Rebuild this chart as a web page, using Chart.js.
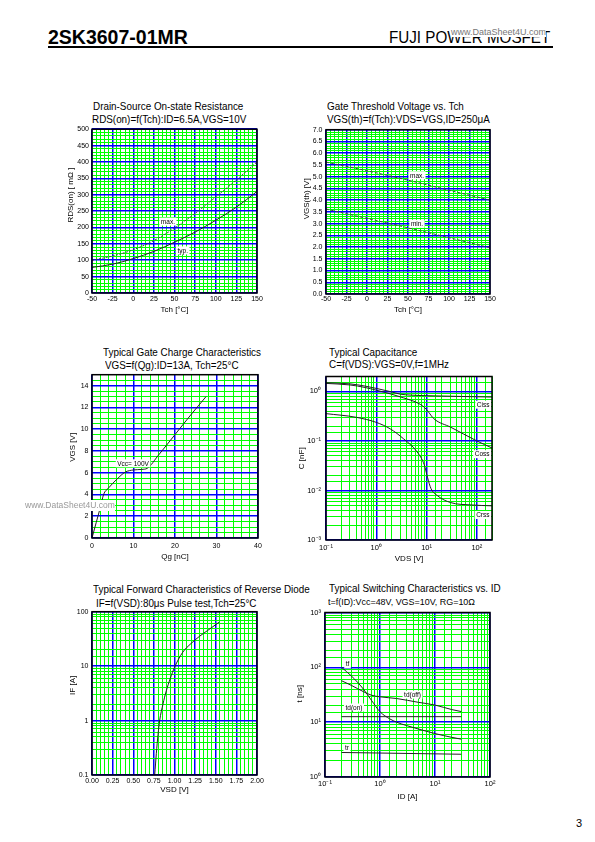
<!DOCTYPE html>
<html><head><meta charset="utf-8">
<script src="https://cdn.jsdelivr.net/npm/chart.js@4.4.1/dist/chart.umd.min.js"></script>
<style>
html,body{margin:0;padding:0;background:#fff;}
body{width:595px;height:842px;position:relative;overflow:hidden;font-family:"Liberation Sans",Arial,Helvetica,sans-serif;color:#000;}
.t{position:absolute;white-space:nowrap;transform-origin:0 50%;transform:scaleX(0.94);font-size:10.5px;line-height:12px;}
canvas{position:absolute;}
</style></head><body>
<div class="t" style="left:48px;top:26px;font-size:19.5px;line-height:22px;font-weight:bold;transform:none;">2SK3607-01MR</div>
<div class="t" style="left:389px;top:29px;font-size:16px;line-height:18px;transform:scaleX(0.95);">FUJI POWER MOSFET</div>
<div class="t" style="left:451px;top:27px;font-size:9px;line-height:10px;color:#777;background:#fff;transform:none;">www.DataSheet4U.com</div>
<div style="position:absolute;left:48px;top:46px;width:505px;height:2px;background:#000;"></div>

<div class="t" style="left:93px;top:100px;">Drain-Source On-state Resistance</div>
<div class="t" style="left:92px;top:113px;">RDS(on)=f(Tch):ID=6.5A,VGS=10V</div>
<div class="t" style="left:327px;top:100px;">Gate Threshold Voltage vs. Tch</div>
<div class="t" style="left:327px;top:113px;">VGS(th)=f(Tch):VDS=VGS,ID=250μA</div>
<div class="t" style="left:103px;top:346px;">Typical Gate Charge Characteristics</div>
<div class="t" style="left:105px;top:359px;">VGS=f(Qg):ID=13A, Tch=25°C</div>
<div class="t" style="left:329px;top:346px;">Typical Capacitance</div>
<div class="t" style="left:329px;top:358px;">C=f(VDS):VGS=0V,f=1MHz</div>
<div class="t" style="left:93px;top:583px;">Typical Forward Characteristics of Reverse Diode</div>
<div class="t" style="left:96px;top:597px;">IF=f(VSD):80μs Pulse test,Tch=25°C</div>
<div class="t" style="left:329px;top:582px;">Typical Switching Characteristics vs. ID</div>
<div class="t" style="left:328px;top:596px;font-size:9.5px;">t=f(ID):Vcc=48V, VGS=10V, RG=10Ω</div>
<div class="t" style="left:576px;top:817px;font-size:11px;transform:none;">3</div>

<canvas id="c1"></canvas><canvas id="c2"></canvas><canvas id="c3"></canvas>
<canvas id="c4"></canvas><canvas id="c5"></canvas><canvas id="c6"></canvas>
<div class="t" style="left:25px;top:500px;font-size:8.5px;line-height:11px;color:#999;background:#fff;transform:none;z-index:5;">www.DataSheet4U.com</div>

<script>
// ---------- DATA ----------
// 1. RDS(on) vs Tch
const rdsTch = [-50, -25, 0, 25, 50, 75, 100, 125, 150];
const rdsMax = [100, 113, 132, 160, 198, 243, 293, 345, 400];
const rdsTyp = [78, 88, 105, 127, 155, 186, 222, 262, 310];
const tchTickLabels = [-50, -25, 0, 25, 50, 75, 100, 125, 150];
const rdsTickLabels = [0, 50, 100, 150, 200, 250, 300, 350, 400, 450, 500];

// 2. VGS(th) vs Tch
const vthTch = [-50, 0, 50, 100, 150];
const vthMax = [5.62, 5.25, 4.85, 4.42, 4.0];
const vthMin = [3.62, 3.22, 2.82, 2.40, 1.97];
const vthTickLabels = [0, 0.5, 1, 1.5, 2, 2.5, 3, 3.5, 4, 4.5, 5, 5.5, 6, 6.5, 7];

// 3. Gate charge
const qgValues = [0, 1, 2, 2.8, 4, 6, 8, 10, 12, 13.3, 16, 20, 24, 27.5];
const vgsValues = [0, 1.4, 2.8, 4.0, 4.6, 5.4, 6.05, 6.25, 6.3, 6.4, 7.6, 9.5, 11.4, 13.0];
const qgTickLabels = [0, 10, 20, 30, 40];
const vgsTickLabels = [0, 2, 4, 6, 8, 10, 12, 14];

// 4. Capacitance (nF) vs VDS
const cissVds = [0.1, 0.3, 0.6, 1, 2, 3, 5, 10, 50, 200];
const ciss = [1.5, 1.42, 1.28, 1.15, 0.98, 0.88, 0.84, 0.82, 0.79, 0.77];
const cossVds = [0.1, 0.3, 0.6, 1, 2, 3.5, 6.5, 9, 11, 14, 30, 100, 200];
const coss = [1.45, 1.35, 1.2, 1.06, 0.88, 0.74, 0.59, 0.48, 0.38, 0.28, 0.19, 0.1, 0.072];
const crssVds = [0.1, 0.4, 1, 1.9, 3.5, 6.5, 9, 10.5, 12.2, 16.6, 30, 77, 200];
const crss = [0.356, 0.3, 0.237, 0.175, 0.11, 0.06, 0.033, 0.018, 0.011, 0.0078, 0.0057, 0.0051, 0.0049];
const decadeVals = [0.001, 0.01, 0.1, 1, 10, 100, 1000];
const decadeText = ['10⁻³', '10⁻²', '10⁻¹', '10⁰', '10¹', '10²', '10³'];

// 5. Diode forward
const vsdValues = [0.76, 0.78, 0.80, 0.82, 0.86, 0.90, 0.95, 1.0, 1.1, 1.2, 1.3, 1.4, 1.54];
const ifValues = [0.1, 0.25, 0.55, 1.0, 2.0, 3.5, 6, 9.5, 18, 26, 35, 45, 64];
const vsdTickLabels = [0, 0.25, 0.5, 0.75, 1, 1.25, 1.5, 1.75, 2];
const ifTickLabels = [0.1, 1, 10, 100];

// 6. Switching times (ns) vs ID
const tfId = [0.2, 0.3, 0.4, 0.5, 0.7, 1.0, 1.5, 2, 3, 5, 10, 20, 30];
const tf = [100, 70, 52, 40, 25, 15.5, 11.5, 10, 8.7, 7.5, 6.2, 5.3, 4.9];
const tdoffId = [0.2, 0.3, 0.5, 0.7, 1, 2, 5, 10, 20, 30];
const tdoff = [57, 47, 36, 31, 29, 27, 23, 20.5, 17, 15.6];
const tdonId = [0.2, 30];
const tdon = [12.6, 12.6];
const trId = [0.2, 30];
const tr = [2.8, 2.6];

// ---------- RENDERING ----------
const FONT = '"Liberation Sans", Arial, Helvetica, sans-serif';
Chart.defaults.font.family = FONT;
Chart.defaults.color = '#000';
const BLUE = '#0000ff', GREEN = '#00ff00';

function near(a, b) { return Math.abs(a - b) <= 1e-7 * Math.max(1, Math.abs(b)); }
function findIdx(list, v) { return list.findIndex(t => near(v, t)); }

function pts(xs, ys) { return xs.map((x, i) => ({x: x, y: ys[i]})); }

function axis(o, showTitle) {
  return {
    type: o.type, min: o.min, max: o.max,
    afterFit: o.fit,
    border: {display: false},
    grid: {
      drawTicks: false,
      color: c => (c.tick && findIdx(o.major, c.tick.value) >= 0) ? BLUE : GREEN,
      lineWidth: c => (c.tick && findIdx(o.major, c.tick.value) >= 0) ? 1.5 : 1
    },
    ticks: {
      stepSize: o.step, autoSkip: false, maxRotation: 0, minRotation: 0,
      maxTicksLimit: 1000, padding: o.pad, font: {size: o.fsize || 7},
      callback: v => { const i = findIdx(o.labels, v); return i >= 0 ? o.fmt(o.labels[i], i) : ''; }
    },
    title: {display: showTitle, text: o.title, font: {size: 8}, padding: 0}
  };
}

function makeChart(id, s) {
  const cv = document.getElementById(id);
  const W = s.yW + s.pw + s.padR, H = s.padT + s.ph + s.xH;
  cv.width = W; cv.height = H;
  cv.style.left = s.left + 'px'; cv.style.top = s.top + 'px';
  cv.style.width = W + 'px'; cv.style.height = H + 'px';
  const framePlugin = {
    id: 'frame' + id,
    afterDatasetsDraw(chart) {
      const {ctx, chartArea: a} = chart;
      const xs = chart.scales.x, ys = chart.scales.y;
      ctx.save();
      ctx.strokeStyle = '#000'; ctx.lineWidth = 1.5;
      ctx.strokeRect(a.left, a.top, a.right - a.left, a.bottom - a.top);
      ctx.font = '6.5px ' + FONT;
      ctx.textBaseline = 'middle';
      for (const n of (s.notes || [])) {
        const px = xs.getPixelForValue(n.x), py = ys.getPixelForValue(n.y);
        const w = ctx.measureText(n.text).width + 3, h = 8;
        const bx = n.align === 'right' ? px - w - 1 : px - w / 2;
        ctx.fillStyle = '#fff'; ctx.fillRect(bx, py - h / 2, w, h);
        ctx.fillStyle = '#000'; ctx.fillText(n.text, bx + 1.5, py + 0.5);
      }
      // y-axis title, slightly shifted along the axis like the original
      ctx.translate(ys.left + 4.8, (a.top + a.bottom) / 2 + (s.yTitleShift || 0));
      ctx.rotate(-Math.PI / 2);
      ctx.font = '8px ' + FONT;
      ctx.textAlign = 'center';
      ctx.fillStyle = '#000';
      ctx.fillText(s.yAxis.title, 0, 0);
      ctx.restore();
    }
  };
  const yW = s.yW, xH = s.xH;
  s.xAxis.fit = a => { a.height = xH; };
  s.yAxis.fit = a => { a.width = yW; };
  return new Chart(cv, {
    type: 'line',
    data: {datasets: s.series.map(d => ({
      data: pts(d.xs, d.ys), borderColor: d.color || '#222', borderWidth: 1,
      borderDash: d.dash || [], pointRadius: 0, fill: false,
      cubicInterpolationMode: 'monotone'
    }))},
    options: {
      responsive: false, animation: false, devicePixelRatio: 1,
      layout: {padding: {left: 0, top: s.padT, right: s.padR, bottom: 0}},
      plugins: {legend: {display: false}, tooltip: {enabled: false}},
      scales: {x: axis(s.xAxis, true), y: axis(s.yAxis, false)}
    },
    plugins: [framePlugin]
  });
}

const fmtInt = v => String(v);
const fmt1 = v => v.toFixed(1);
const fmt2 = v => v.toFixed(2);
const fmtPow = v => decadeText[findIdx(decadeVals, v)];

makeChart('c1', {
  left: 66, top: 122, yW: 26, pw: 165, padR: 10, padT: 6, ph: 165, xH: 22, yTitleShift: -16,
  xAxis: {type: 'linear', min: -50, max: 150, step: 5, labels: tchTickLabels, major: tchTickLabels, fmt: fmtInt, pad: 2, title: 'Tch [°C]'},
  yAxis: {type: 'linear', min: 0, max: 500, step: 10, labels: rdsTickLabels, major: rdsTickLabels, fmt: fmtInt, pad: 3, title: 'RDS(on) [ mΩ ]'},
  series: [
    {xs: rdsTch, ys: rdsMax, dash: [2, 1.5], color: '#444'},
    {xs: rdsTch, ys: rdsTyp, color: '#222'}
  ],
  notes: [{x: 42, y: 218, text: 'max.'}, {x: 60, y: 130, text: 'typ.'}]
});

makeChart('c2', {
  left: 302, top: 122, yW: 24, pw: 164, padR: 10, padT: 6, ph: 166, xH: 21, yTitleShift: -13,
  xAxis: {type: 'linear', min: -50, max: 150, step: 5, labels: tchTickLabels, major: tchTickLabels, fmt: fmtInt, pad: 1, title: 'Tch [°C]'},
  yAxis: {type: 'linear', min: 0, max: 7, step: 0.1, labels: vthTickLabels, major: vthTickLabels, fmt: fmt1, pad: 3.5, title: 'VGS(th) [V]'},
  series: [
    {xs: vthTch, ys: vthMax, dash: [3, 2], color: '#444'},
    {xs: vthTch, ys: vthMin, dash: [3, 2], color: '#444'}
  ],
  notes: [{x: 61, y: 5.06, text: 'max.'}, {x: 61, y: 2.99, text: 'min.'}]
});

makeChart('c3', {
  left: 68, top: 367, yW: 24, pw: 166, padR: 10, padT: 6, ph: 165, xH: 24, yTitleShift: -9,
  xAxis: {type: 'linear', min: 0, max: 40, step: 2, labels: qgTickLabels, major: qgTickLabels, fmt: fmtInt, pad: 3.5, title: 'Qg [nC]'},
  yAxis: {type: 'linear', min: 0, max: 15, step: 0.5, labels: vgsTickLabels, major: vgsTickLabels, fmt: fmtInt, pad: 3.5, title: 'VGS [V]'},
  series: [{xs: qgValues, ys: vgsValues, color: '#222'}],
  notes: [{x: 9.9, y: 6.86, text: 'Vcc= 100V'}]
});

makeChart('c4', {
  left: 297, top: 367, yW: 29, pw: 166, padR: 10, padT: 6, ph: 167, xH: 24, yTitleShift: 0,
  xAxis: {type: 'logarithmic', min: 0.1, max: 200, labels: [0.1, 1, 10, 100], major: decadeVals, fmt: fmtPow, pad: 3, fsize: 7.5, title: 'VDS [V]'},
  yAxis: {type: 'logarithmic', min: 0.001, max: 2, labels: [0.001, 0.01, 0.1, 1], major: decadeVals, fmt: fmtPow, pad: 5, fsize: 7.5, title: 'C [nF]'},
  series: [
    {xs: cissVds, ys: ciss}, {xs: cossVds, ys: coss}, {xs: crssVds, ys: crss}
  ],
  notes: [{x: 200, y: 0.54, text: 'Ciss', align: 'right'}, {x: 200, y: 0.054, text: 'Coss', align: 'right'}, {x: 200, y: 0.0032, text: 'Crss', align: 'right'}]
});

makeChart('c5', {
  left: 68, top: 604, yW: 24, pw: 165, padR: 10, padT: 6, ph: 165, xH: 20, yTitleShift: -8,
  xAxis: {type: 'linear', min: 0, max: 2, step: 0.05, labels: vsdTickLabels, major: vsdTickLabels, fmt: fmt2, pad: 1.5, title: 'VSD [V]'},
  yAxis: {type: 'logarithmic', min: 0.1, max: 100, labels: ifTickLabels, major: ifTickLabels, fmt: fmtInt, pad: 3.5, title: 'IF [A]'},
  series: [{xs: vsdValues, ys: ifValues}]
});

makeChart('c6', {
  left: 295, top: 604, yW: 30, pw: 165, padR: 10, padT: 6, ph: 167, xH: 25, yTitleShift: -1,
  xAxis: {type: 'logarithmic', min: 0.1, max: 100, labels: [0.1, 1, 10, 100], major: decadeVals, fmt: fmtPow, pad: 2.5, fsize: 7.5, title: 'ID [A]'},
  yAxis: {type: 'logarithmic', min: 1, max: 1000, labels: [1, 10, 100, 1000], major: decadeVals, fmt: fmtPow, pad: 4, fsize: 7.5, title: 't [ns]'},
  series: [
    {xs: tfId, ys: tf}, {xs: tdoffId, ys: tdoff}, {xs: tdonId, ys: tdon}, {xs: trId, ys: tr}
  ],
  notes: [{x: 0.257, y: 115, text: 'tf'}, {x: 3.9, y: 31.8, text: 'td(off)'}, {x: 0.336, y: 18.5, text: 'td(on)'}, {x: 0.25, y: 3.4, text: 'tr'}]
});
</script>
</body></html>
